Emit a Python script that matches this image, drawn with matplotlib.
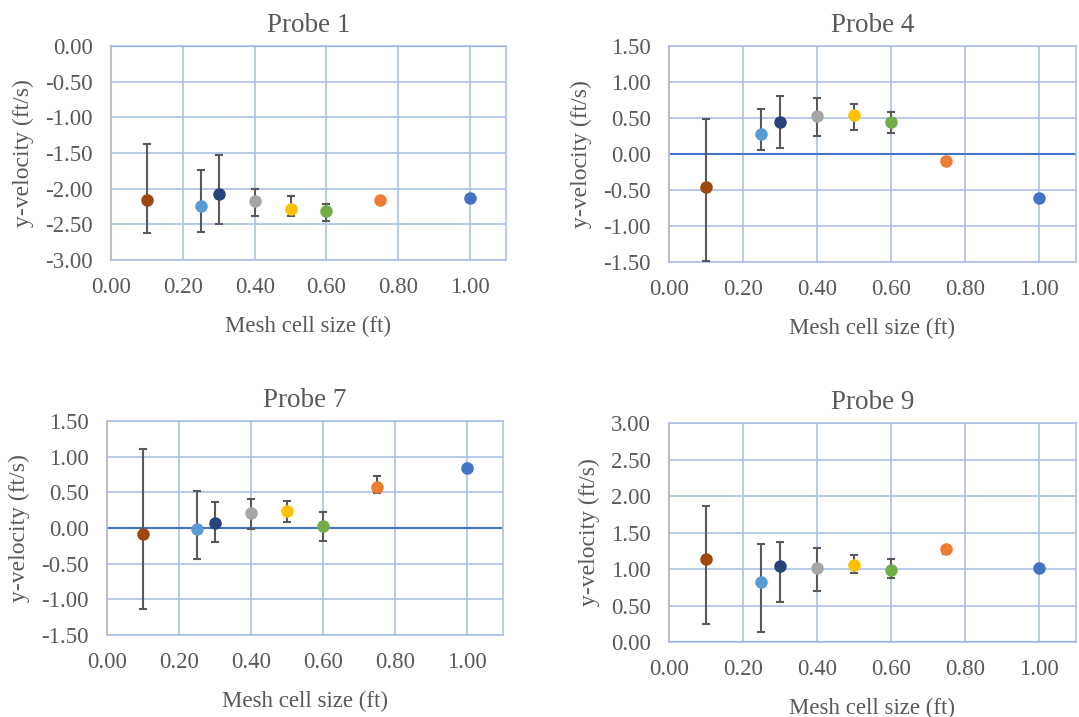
import numpy as np
import matplotlib.pyplot as plt

# mesh cell sizes (ft) and marker colours
mesh = [0.10, 0.25, 0.30, 0.40, 0.50, 0.60, 0.75, 1.00]
colors = ['#9E480E', '#5B9BD5', '#264478', '#A5A5A5',
          '#FFC000', '#70AD47', '#ED7D31', '#4472C4']

# y-velocity means and error bar ends (ft/s)
p1_mean = [-2.16, -2.24, -2.08, -2.18, -2.28, -2.32, -2.16, -2.13]
p1_lo = [-2.62, -2.61, -2.50, -2.38, -2.39, -2.45, -2.16, -2.13]
p1_hi = [-1.37, -1.74, -1.53, -2.01, -2.11, -2.22, -2.16, -2.13]

p4_mean = [-0.46, 0.28, 0.44, 0.53, 0.55, 0.44, -0.09, -0.61]
p4_lo = [-1.49, 0.05, 0.08, 0.25, 0.34, 0.30, -0.12, -0.61]
p4_hi = [0.49, 0.62, 0.81, 0.78, 0.69, 0.58, -0.06, -0.61]

p7_mean = [-0.08, -0.02, 0.07, 0.21, 0.24, 0.03, 0.57, 0.84]
p7_lo = [-1.14, -0.44, -0.19, -0.01, 0.09, -0.18, 0.49, 0.84]
p7_hi = [1.11, 0.52, 0.36, 0.41, 0.38, 0.22, 0.73, 0.84]

p9_mean = [1.14, 0.82, 1.04, 1.01, 1.05, 0.98, 1.28, 1.02]
p9_lo = [0.25, 0.14, 0.55, 0.70, 0.94, 0.88, 1.20, 1.02]
p9_hi = [1.87, 1.34, 1.37, 1.29, 1.19, 1.14, 1.31, 1.02]

probes = [
    ('Probe 1', p1_mean, p1_lo, p1_hi, (-3.0, 0.0),
     [0.1029, 0.6374, 0.366, 0.2985]),
    ('Probe 4', p4_mean, p4_lo, p4_hi, (-1.5, 1.5),
     [0.620, 0.6346, 0.377, 0.301]),
    ('Probe 7', p7_mean, p7_lo, p7_hi, (-1.5, 1.5),
     [0.0992, 0.1144, 0.367, 0.2985]),
    ('Probe 9', p9_mean, p9_lo, p9_hi, (0.0, 3.0),
     [0.620, 0.1046, 0.377, 0.3054]),
]

plt.rcParams['font.family'] = ['Liberation Serif', 'DejaVu Serif']
text_col = '#595959'
grid_col = '#ABC0E6'
axis_col = '#4472C4'

fig = plt.figure(figsize=(10.79, 7.17), dpi=100)

for title, mean, lo, hi, ylim, pos in probes:
    ax = fig.add_axes(pos)
    mean = np.array(mean)
    yerr = [mean - np.array(lo), np.array(hi) - mean]

    ax.set_xlim(0, 1.1)
    ax.set_ylim(*ylim)
    ax.set_xticks(np.arange(0, 1.01, 0.2))
    ax.set_yticks(np.arange(ylim[0], ylim[1] + 0.01, 0.5))
    ax.xaxis.set_major_formatter(plt.FormatStrFormatter('%.2f'))
    ax.yaxis.set_major_formatter(plt.FormatStrFormatter('%.2f'))
    ax.grid(True, color=grid_col, linewidth=1.2)
    ax.set_axisbelow(True)
    ax.axhline(0, color=axis_col, linewidth=1.5, zorder=1)

    for sp in ['top', 'right', 'bottom']:
        ax.spines[sp].set_color(grid_col)
        ax.spines[sp].set_linewidth(1.2)
    ax.spines['left'].set_color('#BFBFBF')
    ax.spines['left'].set_linewidth(1.5)

    for i in range(len(mesh)):
        ax.errorbar(mesh[i], mean[i],
                    yerr=[[yerr[0][i]], [yerr[1][i]]],
                    fmt='o', color=colors[i], markersize=8,
                    ecolor='#595959', elinewidth=1.5, capsize=3,
                    capthick=1.5, zorder=3)

    ax.tick_params(length=0, labelsize=16.5, labelcolor=text_col)
    ax.tick_params(axis='x', pad=12)
    ax.tick_params(axis='y', pad=13)
    ax.set_title(title, fontsize=19.5, color=text_col, pad=10)
    ax.set_xlabel('Mesh cell size (ft)', fontsize=16.5, color=text_col,
                  labelpad=13)
    ax.set_ylabel('y-velocity (ft/s)', fontsize=17, color=text_col,
                  labelpad=8)

fig.savefig('out.png', dpi=100)
